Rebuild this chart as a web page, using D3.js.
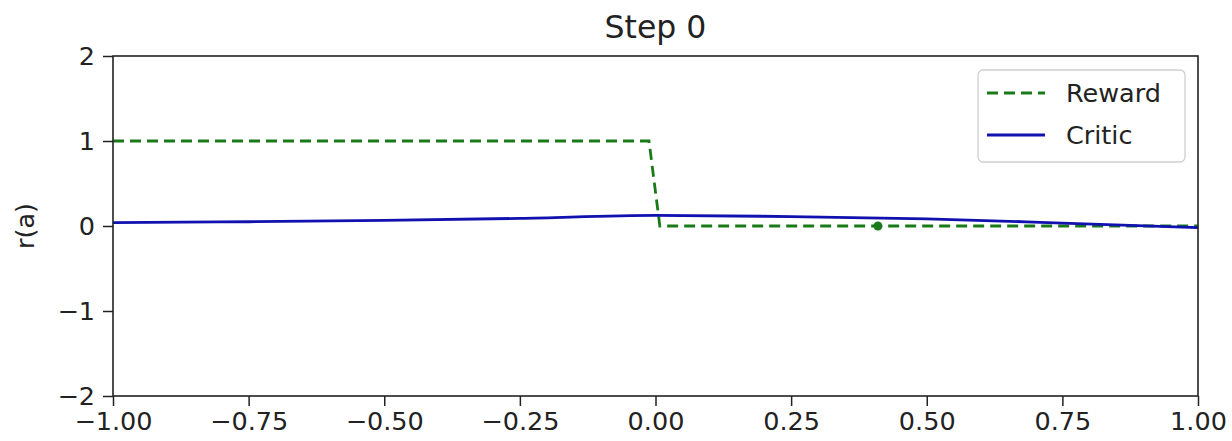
<!DOCTYPE html>
<html>
<head>
<meta charset="utf-8">
<script src="https://d3js.org/d3.v7.min.js"></script>
<style>
  body { margin: 0; background: #fff; }
  text { font-family: "DejaVu Sans", sans-serif; fill: #222; }
</style>
</head>
<body>
<svg id="chart" width="1232" height="441"></svg>
<script>
// data
var rewardX = [-1, -0.012, 0.008, 1];
var rewardY = [1, 1, 0, 0];
var criticX = [-1, -0.75, -0.5, -0.25, 0, 0.25, 0.5, 0.75, 1];
var criticY = [0.04, 0.05, 0.065, 0.09, 0.125, 0.11, 0.085, 0.035, -0.02];
var pointX = [0.41];
var pointY = [0];
var xTicks = [-1, -0.75, -0.5, -0.25, 0, 0.25, 0.5, 0.75, 1];
var yTicks = [-2, -1, 0, 1, 2];
var legendNames = ["Reward", "Critic"];

var svg = d3.select("#chart");
// plot box (window.top is reserved, so use other names)
var pLeft = 113, pRight = 1198, pTop = 56, pBottom = 396;

var x = d3.scaleLinear().domain([-1, 1]).range([pLeft, pRight]);
var y = d3.scaleLinear().domain([-2, 2]).range([pBottom, pTop]);

var fmtX = function(d) { return d3.format(".2f")(d).replace("-", "\u2212"); };
var fmtY = function(d) { return String(d).replace("-", "\u2212"); };

// lines
var line = d3.line()
  .x(function(d) { return x(d[0]); })
  .y(function(d) { return y(d[1]); });

svg.append("path")
  .datum(rewardX.map(function(v, i) { return [v, rewardY[i]]; }))
  .attr("d", line)
  .attr("fill", "none")
  .attr("stroke", "#1a7a1a")
  .attr("stroke-width", 2.8)
  .attr("stroke-dasharray", "11,6");

svg.append("path")
  .datum(criticX.map(function(v, i) { return [v, criticY[i]]; }))
  .attr("d", line.curve(d3.curveMonotoneX))
  .attr("fill", "none")
  .attr("stroke", "#1111b0")
  .attr("stroke-width", 2.8);

svg.selectAll(".pt")
  .data(pointX)
  .enter()
  .append("circle")
    .attr("cx", function(d) { return x(d); })
    .attr("cy", function(d, i) { return y(pointY[i]); })
    .attr("r", 4.5)
    .attr("fill", "#1a7a1a");

// axes
var xAxis = svg.append("g")
  .attr("transform", "translate(0," + pBottom + ")")
  .call(d3.axisBottom(x).tickValues(xTicks).tickFormat(fmtX).tickSize(10).tickPadding(6));
var yAxis = svg.append("g")
  .attr("transform", "translate(" + pLeft + ",0)")
  .call(d3.axisLeft(y).tickValues(yTicks).tickFormat(fmtY).tickSize(10).tickPadding(8));

[xAxis, yAxis].forEach(function(g) {
  g.select(".domain").remove();
  g.selectAll("line").attr("stroke", "#222").attr("stroke-width", 1.5);
  g.selectAll("text").style("font-size", "25.5px").attr("fill", "#222");
});

// spines
svg.append("rect")
  .attr("x", pLeft).attr("y", pTop)
  .attr("width", pRight - pLeft).attr("height", pBottom - pTop)
  .attr("fill", "none")
  .attr("stroke", "#222")
  .attr("stroke-width", 1.6);

// title and label
svg.append("text")
  .attr("x", (pLeft + pRight) / 2).attr("y", 38)
  .attr("text-anchor", "middle")
  .style("font-size", "31.5px")
  .text("Step 0");

svg.append("text")
  .attr("transform", "translate(34," + (pTop + pBottom) / 2 + ") rotate(-90)")
  .attr("text-anchor", "middle")
  .style("font-size", "25.5px")
  .text("r(a)");

// legend
var lg = svg.append("g");
lg.append("rect")
  .attr("x", 978).attr("y", 70)
  .attr("width", 207).attr("height", 92)
  .attr("rx", 5)
  .attr("fill", "#fff").attr("fill-opacity", 0.8)
  .attr("stroke", "#d0d0d0").attr("stroke-width", 1.3);

var legendStyles = [
  { color: "#1a7a1a", dash: "11,6" },
  { color: "#1111b0", dash: null }
];
legendNames.forEach(function(name, i) {
  var yy = 93 + i * 42;
  lg.append("line")
    .attr("x1", 987).attr("x2", 1045)
    .attr("y1", yy).attr("y2", yy)
    .attr("stroke", legendStyles[i].color)
    .attr("stroke-width", 2.8)
    .attr("stroke-dasharray", legendStyles[i].dash);
  lg.append("text")
    .attr("x", 1066).attr("y", yy + 9)
    .style("font-size", "25.5px")
    .text(name);
});
</script>
</body>
</html>
